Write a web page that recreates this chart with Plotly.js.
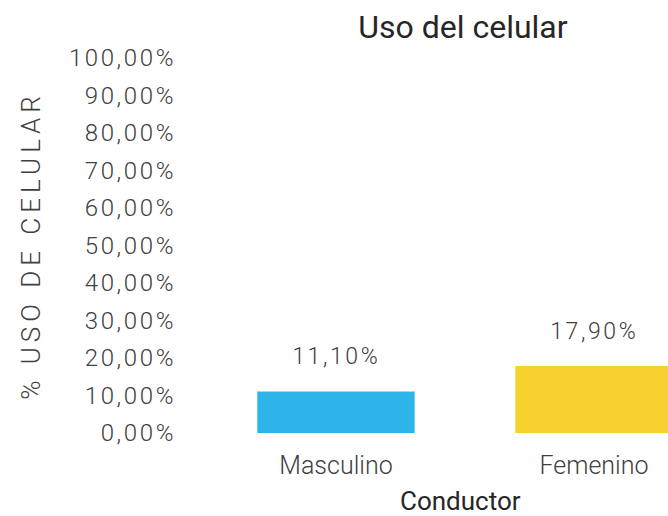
<!DOCTYPE html>
<html>
<head>
<meta charset="utf-8">
<script src="https://cdn.plot.ly/plotly-3.0.1.min.js"></script>
<style>
html, body { margin: 0; padding: 0; background: #fff; }
#chart { width: 668px; height: 516px; }
.ytick text, .annotation-text.val { letter-spacing: 2.6px; }
.g-ytitle text { letter-spacing: 5px; }
</style>
</head>
<body>
<div id="chart"></div>
<script>
const categories = ["Masculino", "Femenino"];
const usoCelular = [11.1, 17.9];
const barColors = ["#2DB4E8", "#F7D12E"];
const yTickVals = [0, 10, 20, 30, 40, 50, 60, 70, 80, 90, 100];
const yTickText = yTickVals.map(v => v.toFixed(2).replace(".", ",") + "%");

const trace = {
  type: "bar",
  x: categories,
  y: usoCelular,
  marker: { color: barColors },
  width: 0.61,
  hoverinfo: "none"
};

const annotations = categories.map((c, i) => ({
  x: c,
  y: usoCelular[i],
  xref: "x",
  yref: "y",
  text: usoCelular[i].toFixed(2).replace(".", ",") + "%",
  showarrow: false,
  yanchor: "bottom",
  yshift: 19,
  font: { family: "Roboto", size: 23, color: "#404040", weight: 300 }
}));
annotations.push({
  text: "Conductor",
  xref: "paper",
  yref: "paper",
  x: 0.549,
  y: -0.181,
  xanchor: "center",
  yanchor: "middle",
  showarrow: false,
  font: { family: "Roboto", size: 26, color: "#262626" }
});

const layout = {
  width: 668,
  height: 516,
  margin: { l: 207, r: 0, t: 58, b: 83 },
  paper_bgcolor: "#ffffff",
  plot_bgcolor: "#ffffff",
  showlegend: false,
  title: {
    text: "Uso del celular",
    font: { family: "Roboto", size: 32, color: "#262626" },
    xref: "container",
    x: 0.693,
    xanchor: "center",
    yref: "container",
    y: 0.948,
    yanchor: "middle"
  },
  xaxis: {
    range: [-0.5, 1.287],
    showgrid: false,
    zeroline: false,
    showline: false,
    ticks: "",
    ticklabelstandoff: 15,
    tickfont: { family: "Roboto", size: 25, color: "#404040", weight: 300 }
  },
  yaxis: {
    range: [0, 100],
    tickmode: "array",
    tickvals: yTickVals,
    ticktext: yTickText,
    showgrid: false,
    zeroline: false,
    showline: false,
    ticks: "",
    ticklabelstandoff: 30,
    tickfont: { family: "Roboto", size: 24, color: "#404040", weight: 300 },
    title: {
      text: "% USO DE CELULAR",
      font: { family: "Roboto", size: 26, color: "#404040", weight: 300 },
      standoff: 20
    },
    automargin: false
  },
  annotations: annotations
};

Plotly.newPlot("chart", [trace], layout, { displayModeBar: false, staticPlot: true }).then(() => {
  document.querySelectorAll(".annotation-text").forEach(el => {
    if (/%$/.test(el.textContent)) el.classList.add("val");
  });
});
</script>
</body>
</html>
